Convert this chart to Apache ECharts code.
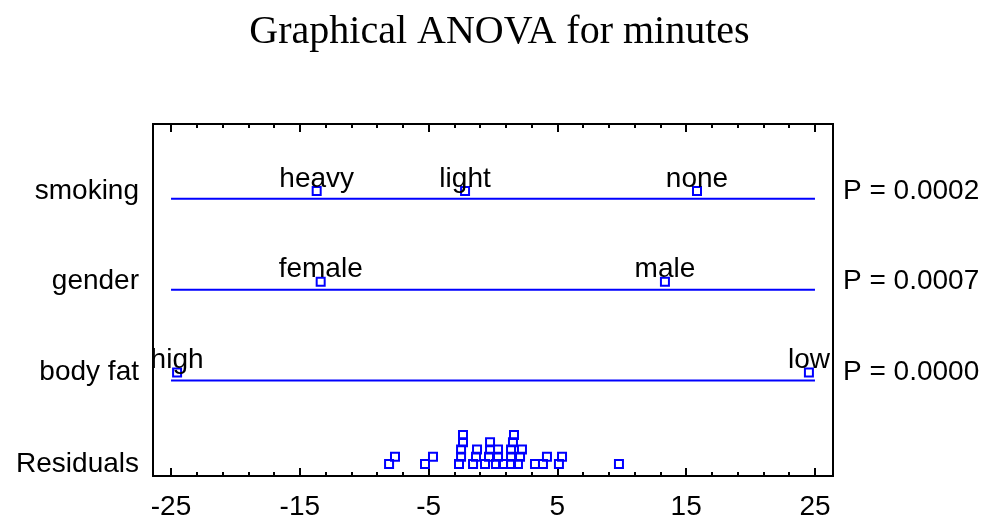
<!DOCTYPE html>
<html>
<head>
<meta charset="utf-8">
<script src="https://cdn.jsdelivr.net/npm/echarts@6/dist/echarts.min.js"></script>
<style>
html,body{margin:0;padding:0;background:#fff;}
#chart{width:999px;height:521px;}
</style>
</head>
<body>
<div id="chart"></div>
<script>
// ---- data ----
const titleText = 'Graphical ANOVA for minutes';
const factorNames = ['body fat', 'gender', 'smoking'];          // rows 1,2,3
const pValueLabels = ['P = 0.0000', 'P = 0.0007', 'P = 0.0002'];
const residualLabel = 'Residuals';

const bodyFatLevels = ['high', 'low'];
const bodyFatMeans = [-24.53, 24.53];
const genderLevels = ['female', 'male'];
const genderMeans = [-13.38, 13.35];
const smokingLevels = ['heavy', 'light', 'none'];
const smokingMeans = [-13.69, -2.17, 15.84];

// residual values with their stacking level in the dot plot
const residuals = [-8.07, -5.28, -2.64, -1.55, -0.62, 0.23, 0.78, 1.40, 1.94, 3.26, 3.88, 5.12, 9.78,
                   -7.61, -4.66, -2.48, -1.32, -0.31, 0.39, 1.40, 2.10, 4.19, 5.36,
                   -2.48, -1.24, -0.23, 0.39, 1.40, 2.25,
                   -2.33, -0.23, 1.55,
                   -2.33, 1.63];
const residualStack = [0,0,0,0,0,0,0,0,0,0,0,0,0,
                       1,1,1,1,1,1,1,1,1,1,
                       2,2,2,2,2,2,
                       3,3,3,
                       4,4];

const xMajorTicks = [-25, -15, -5, 5, 15, 25];
const xLineRange = [-25, 25];

// ---- layout constants ----
const BLUE = '#0000ff';
const MEAN_LIFT = 8 / 91;     // mean boxes sit just above their line
const RES_BASE = 0.082;
const RES_STEP = 0.08;
const X_MIN = -26.4, X_MAX = 26.4;
const Y_MIN = -0.05, Y_MAX = 3.824;
const FONT = 'Liberation Sans, Arial, sans-serif';
const FS = 28;

const xMinorTicks = [];
for (let v = xLineRange[0]; v <= xLineRange[1]; v += 2) xMinorTicks.push(v);

const meanSets = [
  { levels: bodyFatLevels, means: bodyFatMeans },
  { levels: genderLevels, means: genderMeans },
  { levels: smokingLevels, means: smokingMeans }
];

const leftLabelVals = [RES_BASE].concat(factorNames.map((_, i) => i + 1 + MEAN_LIFT));
const leftLabelNames = [residualLabel].concat(factorNames);
const rightLabelVals = factorNames.map((_, i) => i + 1 + MEAN_LIFT);

function lookup(vals, names, v) {
  for (let i = 0; i < vals.length; i++) if (Math.abs(vals[i] - v) < 1e-6) return names[i];
  return '';
}

const series = [];
factorNames.forEach((name, i) => {
  series.push({
    type: 'line',
    data: [[xLineRange[0], i + 1], [xLineRange[1], i + 1]],
    symbol: 'none',
    lineStyle: { color: BLUE, width: 2 },
    silent: true,
    z: 2
  });
});
meanSets.forEach((set, i) => {
  series.push({
    type: 'scatter',
    data: set.means.map((m, j) => ({ value: [m, i + 1 + MEAN_LIFT], name: set.levels[j] })),
    symbol: 'rect',
    symbolSize: 8,
    itemStyle: { color: 'rgba(0,0,0,0)', borderColor: BLUE, borderWidth: 2, opacity: 1 },
    label: {
      show: true,
      position: 'top',
      distance: -7,
      formatter: p => p.name,
      color: '#000',
      opacity: 1,
      textBorderWidth: 0,
      fontFamily: FONT,
      fontSize: FS
    },
    z: 3
  });
});
series.push({
  type: 'scatter',
  data: residuals.map((r, k) => [r, RES_BASE + residualStack[k] * RES_STEP]),
  symbol: 'rect',
  symbolSize: 8,
  itemStyle: { color: 'rgba(0,0,0,0)', borderColor: BLUE, borderWidth: 2, opacity: 1 },
  z: 3
});

function xAxisDef(position, ticks, len, showLabel) {
  return {
    type: 'value', position: position, min: X_MIN, max: X_MAX,
    axisLine: { show: true, onZero: false, lineStyle: { color: '#000', width: 2 } },
    axisTick: { show: true, inside: true, length: len, customValues: ticks, lineStyle: { color: '#000', width: 2 } },
    axisLabel: showLabel ? {
      show: true, customValues: xMajorTicks, margin: 17,
      color: '#000', fontFamily: FONT, fontSize: FS
    } : { show: false },
    splitLine: { show: false }
  };
}

const option = {
  animation: false,
  backgroundColor: '#fff',
  title: {
    text: titleText,
    left: 'center',
    top: 7,
    textStyle: { fontFamily: 'Liberation Serif, Times New Roman, serif', fontSize: 40, fontWeight: 'normal', color: '#000' }
  },
  grid: { left: 153, right: 166, top: 124, bottom: 44.5, containLabel: false },
  xAxis: [
    xAxisDef('bottom', xMajorTicks, 8, true),
    xAxisDef('bottom', xMinorTicks, 4, false),
    xAxisDef('top', xMajorTicks, 8, false),
    xAxisDef('top', xMinorTicks, 4, false)
  ],
  yAxis: [
    {
      type: 'value', position: 'left', min: Y_MIN, max: Y_MAX,
      axisLine: { show: true, onZero: false, lineStyle: { color: '#000', width: 2 } },
      axisTick: { show: false },
      splitLine: { show: false },
      axisLabel: {
        show: true, customValues: leftLabelVals, margin: 14,
        formatter: v => lookup(leftLabelVals, leftLabelNames, v),
        color: '#000', fontFamily: FONT, fontSize: FS
      }
    },
    {
      type: 'value', position: 'right', min: Y_MIN, max: Y_MAX,
      axisLine: { show: true, onZero: false, lineStyle: { color: '#000', width: 2 } },
      axisTick: { show: false },
      splitLine: { show: false },
      axisLabel: {
        show: true, customValues: rightLabelVals, margin: 10,
        formatter: v => lookup(rightLabelVals, pValueLabels, v),
        color: '#000', fontFamily: FONT, fontSize: FS
      }
    }
  ],
  series: series
};

const chart = echarts.init(document.getElementById('chart'), null, { renderer: 'canvas' });
chart.setOption(option);
</script>
</body>
</html>
